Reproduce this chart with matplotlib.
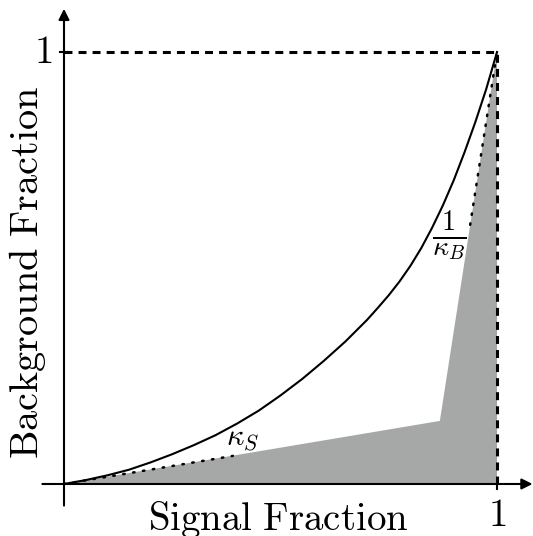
import matplotlib
matplotlib.use('Agg')
import matplotlib.pyplot as plt

plt.rcParams['mathtext.fontset'] = 'cm'
plt.rcParams['font.family'] = 'serif'
plt.rcParams['font.serif'] = ['DejaVu Serif']

# Curve (signal fraction, background fraction)
curve_x = [0.0, 0.05, 0.1, 0.15, 0.2, 0.25, 0.3, 0.35, 0.4, 0.45, 0.5, 0.55,
           0.6, 0.65, 0.7, 0.725, 0.75, 0.775, 0.8, 0.825, 0.85, 0.875, 0.9,
           0.925, 0.95, 0.975, 1.0]
curve_y = [0.0, 0.009, 0.020, 0.033, 0.050, 0.069, 0.090, 0.113, 0.140, 0.170, 0.205, 0.243,
           0.285, 0.330, 0.380, 0.408, 0.437, 0.469, 0.505, 0.546, 0.593, 0.645, 0.703,
           0.768, 0.838, 0.914, 1.0]

# Shaded region vertices
shade_x = [0.0, 0.868, 1.0, 1.0]
shade_y = [0.0, 0.146, 1.0, 0.0]

# Dotted tangent segments
tanS_x = [0.0, 0.39]
tanS_y = [0.0, 0.065]
tanB_x = [0.938, 1.0]
tanB_y = [0.60, 1.0]

fig = plt.figure(figsize=(5.33, 5.36), dpi=100)
ax = fig.add_axes([0, 0, 1, 1])
ax.set_xlim(-0.1478, 1.0831)
ax.set_ylim(-0.1204, 1.1204)
ax.axis('off')

ax.fill(shade_x, shade_y, color='#a6a8a7', lw=0, zorder=1)

ax.plot(curve_x, curve_y, color='k', lw=1.5, zorder=3, solid_joinstyle='round')
ax.plot(tanS_x, tanS_y, color='k', lw=1.8, dashes=(0.6, 3.4), dash_capstyle='round', zorder=3)
ax.plot(tanB_x, tanB_y, color='k', lw=1.8, dashes=(0.6, 3.4), dash_capstyle='round', zorder=3)

# dashed guides at 1
ax.plot([0, 1], [1, 1], color='k', lw=2.2, dashes=(2.6, 2.0), zorder=2)
ax.plot([1, 1], [0, 1], color='k', lw=2.2, dashes=(2.6, 2.0), zorder=2)

# axes with arrows
arrow = dict(arrowstyle='-|>', lw=1.5, color='k', mutation_scale=16, shrinkA=0, shrinkB=0)
ax.annotate('', xy=(1.082, 0), xytext=(-0.05, 0), arrowprops=arrow, zorder=4)
ax.annotate('', xy=(0, 1.10), xytext=(0, -0.05), arrowprops=arrow, zorder=4)

# ticks
ax.plot([1, 1], [-0.012, 0.0], color='k', lw=1.5, zorder=4)
ax.plot([-0.01, 0.01], [1, 1], color='k', lw=1.5, zorder=4)

ax.text(-0.028, 1.0, r'$1$', fontsize=28, ha='right', va='center')
ax.text(1.0, -0.030, r'$1$', fontsize=28, ha='center', va='top')

ax.text(0.494, -0.1065, r'$\mathrm{Signal\ Fraction}$', fontsize=28, ha='center', va='baseline')
ax.text(-0.085, 0.49, r'$\mathrm{Background\ Fraction}$', fontsize=29, ha='center',
        va='center', rotation=90)

ax.text(0.413, 0.108, r'$\kappa_S$', fontsize=22, ha='center', va='center')
ax.text(0.89, 0.574, r'$\frac{1}{\kappa_B}$', fontsize=29, ha='center', va='center')

plt.savefig('out.png', dpi=100)
